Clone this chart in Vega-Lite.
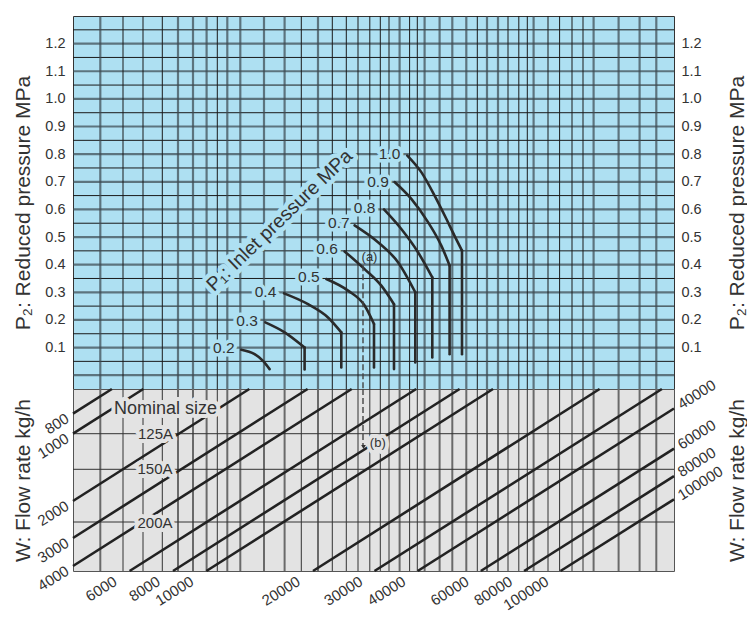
{
  "$schema": "https://vega.github.io/schema/vega-lite/v6.json",
  "padding": {"left": 12, "top": 14, "right": 0, "bottom": 0},
  "autosize": {"type": "pad"},
  "config": {
    "font": "Liberation Sans",
    "axis": {"titleFont": "Liberation Sans", "labelFont": "Liberation Sans", "titleFontWeight": "normal", "titleColor": "#333", "labelColor": "#333", "titleFontSize": 21, "labelFontSize": 14.5, "grid": false, "ticks": false, "domain": false},
    "view": {"stroke": "#333", "strokeWidth": 1}
  },
  "datasets": {
    "vgrid": [
      {"x": 27.3, "k": "G"}, {"x": 50, "k": "B"}, {"x": 70, "k": "B"}, {"x": 89.3, "k": "B"}, {"x": 105, "k": "G"}, {"x": 120, "k": "G"}, {"x": 133.6, "k": "G"}, {"x": 144.3, "k": "B"}, {"x": 154.3, "k": "G"}, {"x": 167.3, "k": "G"}, {"x": 191, "k": "G"}, {"x": 211.6, "k": "G"}, {"x": 228.3, "k": "B"}, {"x": 245, "k": "G"}, {"x": 259.3, "k": "B"}, {"x": 273.3, "k": "B"}, {"x": 285, "k": "B"}, {"x": 296.8, "k": "B"}, {"x": 307.3, "k": "B"}, {"x": 316, "k": "B"}, {"x": 326.6, "k": "G"}, {"x": 336.6, "k": "B"}, {"x": 344.3, "k": "B"}, {"x": 351.6, "k": "G"}, {"x": 366.6, "k": "G"}, {"x": 379.3, "k": "G"}, {"x": 393.3, "k": "G"}, {"x": 404.3, "k": "B"}, {"x": 414, "k": "G"}, {"x": 425, "k": "G"}, {"x": 435, "k": "B"}, {"x": 445.8, "k": "B"}, {"x": 454.3, "k": "B"}, {"x": 460.6, "k": "G"}, {"x": 475, "k": "B"}, {"x": 486.6, "k": "B"}, {"x": 499, "k": "B"}, {"x": 510, "k": "B"}, {"x": 520.6, "k": "G"}, {"x": 545.6, "k": "G"}, {"x": 566.6, "k": "G"}, {"x": 583.3, "k": "G"}
    ],
    "hgrid": [
      {"p": 0, "k": "G"}, {"p": 0.05, "k": "B"}, {"p": 0.1, "k": "G"}, {"p": 0.15, "k": "B"}, {"p": 0.2, "k": "G"}, {"p": 0.25, "k": "B"}, {"p": 0.3, "k": "G"}, {"p": 0.35, "k": "B"}, {"p": 0.4, "k": "G"}, {"p": 0.45, "k": "B"}, {"p": 0.5, "k": "G"}, {"p": 0.55, "k": "B"}, {"p": 0.6, "k": "G"}, {"p": 0.65, "k": "B"}, {"p": 0.7, "k": "G"}, {"p": 0.75, "k": "B"}, {"p": 0.8, "k": "G"}, {"p": 0.85, "k": "B"}, {"p": 0.9, "k": "G"}, {"p": 0.95, "k": "B"}, {"p": 1.0, "k": "G"}, {"p": 1.05, "k": "B"}, {"p": 1.1, "k": "G"}, {"p": 1.15, "k": "B"}, {"p": 1.2, "k": "G"}, {"p": 1.25, "k": "B"}
    ],
    "arcs": [
      {"c": "1.0", "x": 334.3, "p": 0.795}, {"c": "1.0", "x": 348.3, "p": 0.735}, {"c": "1.0", "x": 361.6, "p": 0.65}, {"c": "1.0", "x": 373.3, "p": 0.566}, {"c": "1.0", "x": 381.3, "p": 0.506}, {"c": "1.0", "x": 389, "p": 0.451},
      {"c": "0.9", "x": 321.6, "p": 0.699}, {"c": "0.9", "x": 338.3, "p": 0.638}, {"c": "0.9", "x": 355, "p": 0.554}, {"c": "0.9", "x": 368.3, "p": 0.469}, {"c": "0.9", "x": 376.6, "p": 0.397},
      {"c": "0.8", "x": 311, "p": 0.6}, {"c": "0.8", "x": 328.3, "p": 0.529}, {"c": "0.8", "x": 345, "p": 0.445}, {"c": "0.8", "x": 359.3, "p": 0.354},
      {"c": "0.7", "x": 281.6, "p": 0.542}, {"c": "0.7", "x": 305, "p": 0.481}, {"c": "0.7", "x": 325, "p": 0.409}, {"c": "0.7", "x": 342.3, "p": 0.3},
      {"c": "0.6", "x": 271.6, "p": 0.448}, {"c": "0.6", "x": 291.6, "p": 0.384}, {"c": "0.6", "x": 308.3, "p": 0.324}, {"c": "0.6", "x": 321, "p": 0.257},
      {"c": "0.5", "x": 253.3, "p": 0.348}, {"c": "0.5", "x": 275, "p": 0.306}, {"c": "0.5", "x": 291.6, "p": 0.252}, {"c": "0.5", "x": 301, "p": 0.185},
      {"c": "0.4", "x": 211, "p": 0.296}, {"c": "0.4", "x": 235, "p": 0.257}, {"c": "0.4", "x": 255, "p": 0.209}, {"c": "0.4", "x": 268.3, "p": 0.155},
      {"c": "0.3", "x": 192.3, "p": 0.191}, {"c": "0.3", "x": 211.6, "p": 0.155}, {"c": "0.3", "x": 231.6, "p": 0.1},
      {"c": "0.2", "x": 168.3, "p": 0.092}, {"c": "0.2", "x": 181.6, "p": 0.076}, {"c": "0.2", "x": 190, "p": 0.052}, {"c": "0.2", "x": 196.6, "p": 0.022}
    ],
    "stems": [
      {"c": "1.0", "x": 389, "top": 0.451, "bottom": 0.076},
      {"c": "0.9", "x": 376.6, "top": 0.397, "bottom": 0.076},
      {"c": "0.8", "x": 359.3, "top": 0.354, "bottom": 0.064},
      {"c": "0.7", "x": 342.3, "top": 0.3, "bottom": 0.046},
      {"c": "0.6", "x": 321, "top": 0.257, "bottom": 0.022},
      {"c": "0.5", "x": 301, "top": 0.185, "bottom": 0.028},
      {"c": "0.4", "x": 268.3, "top": 0.155, "bottom": 0.028},
      {"c": "0.3", "x": 231.6, "top": 0.1, "bottom": 0.021}
    ],
    "p1labels": [
      {"label": "0.2", "x": 150.8, "p": 0.1}, {"label": "0.3", "x": 174.1, "p": 0.197}, {"label": "0.4", "x": 192.5, "p": 0.3}, {"label": "0.5", "x": 235.8, "p": 0.354}, {"label": "0.6", "x": 254.1, "p": 0.457}, {"label": "0.7", "x": 265.8, "p": 0.551}, {"label": "0.8", "x": 291.6, "p": 0.605}, {"label": "0.9", "x": 305, "p": 0.701}, {"label": "1.0", "x": 316.6, "p": 0.801}
    ],
    "wlines": [
      {"w": 800, "i": 0, "x": 0, "v": 24.7}, {"w": 800, "i": 1, "x": 38.9, "v": 0},
      {"w": 1000, "i": 0, "x": 0, "v": 44.7}, {"w": 1000, "i": 1, "x": 70.3, "v": 0},
      {"w": 2000, "i": 0, "x": 0, "v": 112}, {"w": 2000, "i": 1, "x": 176.3, "v": 0},
      {"w": 3000, "i": 0, "x": 0, "v": 149}, {"w": 3000, "i": 1, "x": 234.6, "v": 0},
      {"w": 4000, "i": 0, "x": 0, "v": 177}, {"w": 4000, "i": 1, "x": 278.7, "v": 0},
      {"w": 6000, "i": 0, "x": 56.6, "v": 182}, {"w": 6000, "i": 1, "x": 343.2, "v": 0},
      {"w": 8000, "i": 0, "x": 100, "v": 182}, {"w": 8000, "i": 1, "x": 386.6, "v": 0},
      {"w": 10000, "i": 0, "x": 133.4, "v": 182}, {"w": 10000, "i": 1, "x": 420, "v": 0},
      {"w": 20000, "i": 0, "x": 240, "v": 182}, {"w": 20000, "i": 1, "x": 526.6, "v": 0},
      {"w": 30000, "i": 0, "x": 301.5, "v": 182}, {"w": 30000, "i": 1, "x": 588.9, "v": 0},
      {"w": 40000, "i": 0, "x": 344.7, "v": 182}, {"w": 40000, "i": 1, "x": 601, "v": 19.5},
      {"w": 60000, "i": 0, "x": 407.8, "v": 182}, {"w": 60000, "i": 1, "x": 601, "v": 59.6},
      {"w": 80000, "i": 0, "x": 451.1, "v": 182}, {"w": 80000, "i": 1, "x": 601, "v": 87.2},
      {"w": 100000, "i": 0, "x": 487.5, "v": 182}, {"w": 100000, "i": 1, "x": 601, "v": 110.3}
    ],
    "wlabels": [
      {"t": "800", "side": "L", "x": -5.5, "v": 28.2}, {"t": "1000", "side": "L", "x": -5.5, "v": 48.2}, {"t": "2000", "side": "L", "x": -5.5, "v": 115.5}, {"t": "3000", "side": "L", "x": -5.5, "v": 152.5}, {"t": "4000", "side": "L", "x": -5.5, "v": 180.5},
      {"t": "6000", "side": "B", "x": 42.5, "v": 191}, {"t": "8000", "side": "B", "x": 85.8, "v": 191}, {"t": "10000", "side": "B", "x": 119.2, "v": 191}, {"t": "20000", "side": "B", "x": 225.8, "v": 191}, {"t": "30000", "side": "B", "x": 288.1, "v": 191}, {"t": "40000", "side": "B", "x": 331.3, "v": 191}, {"t": "60000", "side": "B", "x": 394.4, "v": 191}, {"t": "80000", "side": "B", "x": 437.9, "v": 191}, {"t": "100000", "side": "B", "x": 474.3, "v": 191},
      {"t": "40000", "side": "R", "x": 606, "v": 16.6}, {"t": "60000", "side": "R", "x": 606, "v": 56.7}, {"t": "80000", "side": "R", "x": 606, "v": 84.3}, {"t": "100000", "side": "R", "x": 606, "v": 107.4}
    ],
    "notes": [
      {"t": "125A", "x": 82.5, "v": 45.3, "s": 15}, {"t": "150A", "x": 82, "v": 79.6, "s": 15}, {"t": "200A", "x": 82, "v": 133.5, "s": 15}, {"t": "(b)", "x": 304.8, "v": 54, "s": 13}, {"t": "Nominal size", "x": 92.5, "v": 19.5, "s": 18}
    ]
  },
  "vconcat": [
    {
      "width": 601,
      "height": 373,
      "view": {"fill": "#aee0f2", "stroke": "#333"},
      "resolve": {"axis": {"y": "independent"}},
      "layer": [
        {
          "data": {"name": "hgrid"},
          "transform": [{"filter": "datum.k == 'G'"}],
          "mark": {"type": "rule", "color": "#3d4a50", "opacity": 0.72, "strokeWidth": 2.2},
          "encoding": {
            "y": {"field": "p", "type": "quantitative", "scale": {"domain": [-0.05, 1.3], "nice": false, "zero": false},
              "axis": {"orient": "left", "title": "P₂: Reduced pressure MPa", "values": [0.1, 0.2, 0.3, 0.4, 0.5, 0.6, 0.7, 0.8, 0.9, 1.0, 1.1, 1.2], "format": ".1f", "labelPadding": 8, "titlePadding": 11}}
          }
        },
        {
          "data": {"name": "hgrid"},
          "transform": [{"filter": "datum.k == 'B'"}],
          "mark": {"type": "rule", "color": "#1a1a1a", "strokeWidth": 1},
          "encoding": {
            "y": {"field": "p", "type": "quantitative", "scale": {"domain": [-0.05, 1.3], "nice": false, "zero": false},
              "axis": {"orient": "right", "title": "P₂: Reduced pressure MPa", "titleAngle": 270, "titleBaseline": "top", "values": [0.1, 0.2, 0.3, 0.4, 0.5, 0.6, 0.7, 0.8, 0.9, 1.0, 1.1, 1.2], "format": ".1f", "labelPadding": 7, "titlePadding": 25}}
          }
        },
        {
          "data": {"name": "vgrid"},
          "transform": [{"filter": "datum.k == 'G'"}],
          "mark": {"type": "rule", "color": "#3d4a50", "opacity": 0.72, "strokeWidth": 2.2},
          "encoding": {"x": {"field": "x", "type": "quantitative", "scale": {"domain": [0, 601], "nice": false, "zero": false}, "axis": null}}
        },
        {
          "data": {"name": "vgrid"},
          "transform": [{"filter": "datum.k == 'B'"}],
          "mark": {"type": "rule", "color": "#1a1a1a", "strokeWidth": 1},
          "encoding": {"x": {"field": "x", "type": "quantitative", "axis": null}}
        },
        {
          "data": {"name": "arcs"},
          "mark": {"type": "line", "color": "#2a2a2a", "strokeWidth": 2.6, "interpolate": "monotone", "strokeCap": "round"},
          "encoding": {
            "x": {"field": "x", "type": "quantitative", "axis": null},
            "y": {"field": "p", "type": "quantitative", "axis": null},
            "detail": {"field": "c"}
          }
        },
        {
          "data": {"name": "stems"},
          "mark": {"type": "rule", "color": "#2a2a2a", "strokeWidth": 2.6, "strokeCap": "round"},
          "encoding": {
            "x": {"field": "x", "type": "quantitative", "axis": null},
            "y": {"field": "top", "type": "quantitative", "axis": null},
            "y2": {"field": "bottom"}
          }
        },
        {
          "data": {"values": [{"x": 290, "p": 0.398, "p2": -0.05}]},
          "mark": {"type": "rule", "color": "#444", "strokeWidth": 1.4, "strokeDash": [6, 3]},
          "encoding": {
            "x": {"field": "x", "type": "quantitative", "axis": null},
            "y": {"field": "p", "type": "quantitative", "axis": null},
            "y2": {"field": "p2"}
          }
        },
        {
          "data": {"name": "p1labels"},
          "mark": {"type": "text", "fontSize": 15.5, "fill": "#aee0f2", "stroke": "#aee0f2", "strokeWidth": 7, "strokeJoin": "round"},
          "encoding": {
            "x": {"field": "x", "type": "quantitative", "axis": null},
            "y": {"field": "p", "type": "quantitative", "axis": null},
            "text": {"field": "label"}
          }
        },
        {
          "data": {"name": "p1labels"},
          "mark": {"type": "text", "fontSize": 15.5, "color": "#333"},
          "encoding": {
            "x": {"field": "x", "type": "quantitative", "axis": null},
            "y": {"field": "p", "type": "quantitative", "axis": null},
            "text": {"field": "label"}
          }
        },
        {
          "data": {"values": [{"x": 206.6, "p": 0.56, "t": "P₁: Inlet pressure MPa"}]},
          "mark": {"type": "text", "fontSize": 19.5, "angle": 316, "fill": "#aee0f2", "stroke": "#aee0f2", "strokeWidth": 9, "strokeJoin": "round"},
          "encoding": {
            "x": {"field": "x", "type": "quantitative", "axis": null},
            "y": {"field": "p", "type": "quantitative", "axis": null},
            "text": {"field": "t"}
          }
        },
        {
          "data": {"values": [{"x": 206.6, "p": 0.56, "t": "P₁: Inlet pressure MPa"}]},
          "mark": {"type": "text", "fontSize": 19.5, "angle": 316, "color": "#333"},
          "encoding": {
            "x": {"field": "x", "type": "quantitative", "axis": null},
            "y": {"field": "p", "type": "quantitative", "axis": null},
            "text": {"field": "t"}
          }
        },
        {
          "data": {"values": [{"x": 296.5, "p": 0.427, "t": "(a)"}]},
          "mark": {"type": "text", "fontSize": 13, "color": "#333"},
          "encoding": {
            "x": {"field": "x", "type": "quantitative", "axis": null},
            "y": {"field": "p", "type": "quantitative", "axis": null},
            "text": {"field": "t"}
          }
        }
      ]
    },
    {
      "width": 601,
      "height": 182,
      "view": {"fill": "#e3e3e3", "stroke": "#555"},
      "resolve": {"axis": {"y": "independent"}},
      "layer": [
        {
          "data": {"name": "vgrid"},
          "transform": [{"filter": "datum.k == 'G'"}],
          "mark": {"type": "rule", "color": "#6a6a6a", "strokeWidth": 2},
          "encoding": {"x": {"field": "x", "type": "quantitative", "scale": {"domain": [0, 601], "nice": false, "zero": false}, "axis": null}}
        },
        {
          "data": {"name": "vgrid"},
          "transform": [{"filter": "datum.k == 'B'"}],
          "mark": {"type": "rule", "color": "#333", "strokeWidth": 1},
          "encoding": {"x": {"field": "x", "type": "quantitative", "axis": null}}
        },
        {
          "data": {"values": [{"line": 44.7}, {"line": 80.3}, {"line": 133}]},
          "mark": {"type": "rule", "color": "#333", "strokeWidth": 1},
          "encoding": {
            "y": {"field": "line", "type": "quantitative", "scale": {"domain": [0, 182], "reverse": true, "nice": false, "zero": false},
              "axis": {"orient": "left", "title": "W: Flow rate kg/h", "labels": false, "titlePadding": 39.5}}
          }
        },
        {
          "data": {"name": "wlines"},
          "mark": {"type": "line", "color": "#222", "strokeWidth": 2.6},
          "encoding": {
            "x": {"field": "x", "type": "quantitative", "axis": null},
            "y": {"field": "v", "type": "quantitative", "axis": {"orient": "right", "title": "W: Flow rate kg/h", "labels": false, "titleAngle": 270, "titleBaseline": "top", "titlePadding": 52.5}},
            "detail": {"field": "w"},
            "order": {"field": "i", "type": "quantitative"}
          }
        },
        {
          "data": {"values": [{"x": 290, "v": 0, "v2": 57}]},
          "mark": {"type": "rule", "color": "#444", "strokeWidth": 1.4, "strokeDash": [6, 3]},
          "encoding": {
            "x": {"field": "x", "type": "quantitative", "axis": null},
            "y": {"field": "v", "type": "quantitative", "axis": null},
            "y2": {"field": "v2"}
          }
        },
        {
          "data": {"values": [{"x": 290.5, "v": 58}]},
          "mark": {"type": "point", "shape": "triangle-down", "size": 22, "filled": true, "color": "#333", "opacity": 1},
          "encoding": {
            "x": {"field": "x", "type": "quantitative", "axis": null},
            "y": {"field": "v", "type": "quantitative", "axis": null}
          }
        },
        {
          "data": {"name": "notes"},
          "mark": {"type": "text", "fill": "#e3e3e3", "stroke": "#e3e3e3", "strokeWidth": 8, "strokeJoin": "round"},
          "encoding": {
            "x": {"field": "x", "type": "quantitative", "axis": null},
            "y": {"field": "v", "type": "quantitative", "axis": null},
            "text": {"field": "t"},
            "size": {"field": "s", "type": "quantitative", "scale": null, "legend": null}
          }
        },
        {
          "data": {"name": "notes"},
          "mark": {"type": "text", "color": "#333"},
          "encoding": {
            "x": {"field": "x", "type": "quantitative", "axis": null},
            "y": {"field": "v", "type": "quantitative", "axis": null},
            "text": {"field": "t"},
            "size": {"field": "s", "type": "quantitative", "scale": null, "legend": null}
          }
        },
        {
          "data": {"name": "wlabels"},
          "transform": [{"filter": "datum.side != 'R'"}],
          "mark": {"type": "text", "fontSize": 15, "color": "#333", "align": "right", "baseline": "middle", "angle": 328},
          "encoding": {
            "x": {"field": "x", "type": "quantitative", "axis": null},
            "y": {"field": "v", "type": "quantitative", "axis": null},
            "text": {"field": "t"}
          }
        },
        {
          "data": {"name": "wlabels"},
          "transform": [{"filter": "datum.side == 'R'"}],
          "mark": {"type": "text", "fontSize": 15, "color": "#333", "align": "left", "baseline": "middle", "angle": 328},
          "encoding": {
            "x": {"field": "x", "type": "quantitative", "axis": null},
            "y": {"field": "v", "type": "quantitative", "axis": null},
            "text": {"field": "t"}
          }
        }
      ]
    }
  ],
  "spacing": 0,
  "bounds": "flush",
  "resolve": {"scale": {"x": "independent", "y": "independent"}}
}
